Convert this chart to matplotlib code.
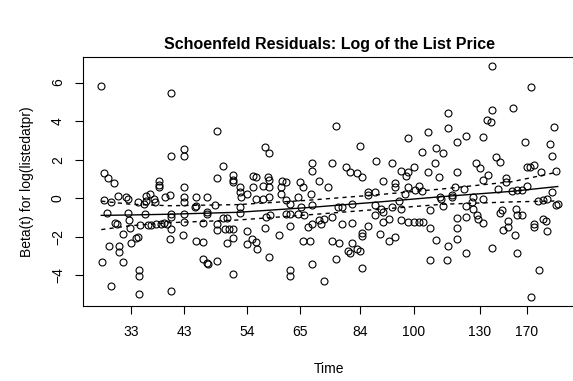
import numpy as np
import matplotlib
matplotlib.use("Agg")
import matplotlib.pyplot as plt

plt.rcParams["font.family"] = ["Liberation Sans", "DejaVu Sans"]

# scaled residuals for log(listedatpr), x = km-transformed time
t_a = [0.000, 0.153, 0.153, 0.007, 0.015, 0.028, 0.127, 0.127, 0.127, 0.007, 0.022, 0.037,
       0.055, 0.059, 0.081, 0.098, 0.107, 0.094, 0.098, 0.116, 0.118, 0.140, 0.151, 0.013,
       0.059, 0.096, 0.153, 0.153, 0.031, 0.035, 0.061, 0.063, 0.085, 0.103, 0.109, 0.120,
       0.131, 0.138, 0.144, 0.153, 0.048, 0.066, 0.077, 0.081, 0.018, 0.039, 0.039, 0.002,
       0.048, 0.083, 0.083, 0.022, 0.083, 0.153]
b_a = [5.81, 5.44, 2.21, 1.28, 1.02, 0.76, 0.91, 0.70, 0.55, -0.08, -0.23, 0.13,
       0.03, -0.03, -0.23, 0.13, 0.23, -0.29, -0.13, -0.03, -0.23, 0.08, 0.18, -0.76,
       -0.76, -0.81, -0.81, -0.96, -1.28, -1.33, -1.12, -1.54, -1.38, -1.38, -1.38, -1.33,
       -1.33, -1.28, -1.33, -1.59, -1.85, -2.32, -2.06, -2.01, -2.47, -2.47, -2.79, -3.31,
       -3.31, -3.72, -4.04, -4.56, -4.97, -4.82]

t_b = [0.254, 0.182, 0.182, 0.267, 0.254, 0.289, 0.289, 0.333, 0.339, 0.182, 0.182, 0.182,
       0.208, 0.208, 0.232, 0.249, 0.289, 0.304, 0.304, 0.306, 0.304, 0.304, 0.319, 0.333,
       0.339, 0.354, 0.354, 0.182, 0.182, 0.206, 0.232, 0.232, 0.223, 0.254, 0.254, 0.267,
       0.276, 0.271, 0.280, 0.289, 0.289, 0.276, 0.319, 0.330, 0.339, 0.341, 0.319, 0.359,
       0.368, 0.151, 0.180, 0.208, 0.223, 0.223, 0.232, 0.234, 0.254, 0.289]
b_b = [3.46, 2.53, 2.16, 1.64, 1.02, 1.22, 0.96, 1.17, 1.07, 0.60, 0.08, -0.23,
       0.03, -0.39, 0.03, -0.34, 0.81, 0.60, 0.29, 0.03, -0.49, -0.76, 0.23, 0.55,
       -0.03, -0.03, 0.65, -0.81, -1.22, -0.49, -0.70, -0.81, -1.28, -1.33, -1.64, -1.02,
       -1.02, -1.59, -1.59, -1.59, -2.06, -2.32, -1.69, -2.11, -2.27, -2.63, -2.37, -1.54,
       -3.05, -2.11, -1.90, -2.21, -2.27, -3.15, -3.36, -3.41, -3.26, -3.93]

t_c = [0.514, 0.567, 0.359, 0.368, 0.462, 0.462, 0.505, 0.536, 0.545, 0.560, 0.571, 0.365,
       0.368, 0.396, 0.405, 0.435, 0.477, 0.368, 0.368, 0.394, 0.394, 0.442, 0.460, 0.497,
       0.405, 0.414, 0.431, 0.438, 0.462, 0.361, 0.370, 0.405, 0.414, 0.431, 0.444, 0.389,
       0.414, 0.453, 0.462, 0.477, 0.481, 0.488, 0.505, 0.519, 0.527, 0.549, 0.527, 0.549,
       0.571, 0.571, 0.442, 0.457, 0.505, 0.521, 0.549, 0.540, 0.545, 0.560, 0.567, 0.462,
       0.514, 0.571, 0.414, 0.414, 0.488]
b_c = [3.72, 2.68, 2.63, 2.32, 1.80, 1.38, 1.80, 1.59, 1.33, 1.28, 1.07, 1.07,
       0.96, 0.91, 0.86, 0.81, 0.91, 0.60, 0.08, 0.55, 0.23, 0.55, 0.23, 0.55,
       -0.08, -0.29, 0.03, -0.44, -0.34, -0.96, -0.86, -0.81, -0.81, -0.81, -0.86, -1.90,
       -1.43, -1.48, -1.33, -1.12, -1.33, -1.07, -0.96, -0.49, -0.49, -0.29, -1.33, -1.28,
       -1.80, -1.95, -2.21, -2.21, -2.21, -2.32, -2.32, -2.73, -2.84, -2.63, -2.73, -3.41,
       -3.15, -3.62, -3.72, -4.04, -4.30]

t_d = [0.672, 0.716, 0.702, 0.602, 0.637, 0.656, 0.667, 0.672, 0.685, 0.716, 0.617, 0.643,
       0.643, 0.672, 0.687, 0.702, 0.696, 0.584, 0.584, 0.600, 0.665, 0.652, 0.600, 0.613,
       0.617, 0.637, 0.656, 0.600, 0.617, 0.630, 0.656, 0.672, 0.685, 0.696, 0.705, 0.584,
       0.611, 0.630, 0.643]
b_d = [3.10, 3.41, 2.37, 1.90, 1.80, 1.38, 1.12, 1.33, 1.59, 1.33, 0.91, 0.76,
       0.60, 0.60, 0.44, 0.39, 0.65, 0.29, 0.18, 0.29, 0.23, -0.13, -0.34, -0.55,
       -0.70, -0.49, -0.55, -0.86, -1.22, -1.07, -1.12, -1.22, -1.22, -1.22, -1.22, -1.43,
       -1.85, -2.21, -2.01]

t_e = [0.856, 0.941, 0.759, 0.856, 0.902, 0.845, 0.853, 0.759, 0.799, 0.836, 0.779, 0.928,
       0.991, 0.982, 0.733, 0.748, 0.731, 0.987, 0.864, 0.873, 0.821, 0.829, 0.847, 0.836,
       0.779, 0.740, 0.932, 0.939, 0.947, 0.963, 0.996, 0.886, 0.886, 0.869, 0.899, 0.910,
       0.921, 0.932, 0.775, 0.794, 0.742, 0.744, 0.768, 0.768, 0.814, 0.812, 0.836, 0.799,
       0.748, 0.956, 0.967, 0.976, 0.987, 0.996, 1.000, 0.720, 0.814, 0.823, 0.825, 0.836,
       0.873, 0.877, 0.908, 0.910, 0.921, 0.779, 0.799, 0.891, 0.967, 0.974, 0.947, 0.947,
       0.976, 0.880, 0.891, 0.906, 0.779, 0.779, 0.759, 0.733, 0.720, 0.856, 0.910, 0.799,
       0.757, 0.720, 0.958, 0.941]
b_e = [6.85, 5.76, 4.40, 4.56, 4.66, 4.04, 3.93, 3.62, 3.20, 3.15, 2.89, 2.89,
       3.67, 2.79, 2.58, 2.32, 1.80, 2.16, 2.11, 1.85, 1.80, 1.54, 1.22, 0.96,
       1.33, 1.07, 1.59, 1.59, 1.74, 1.33, 1.43, 1.02, 0.86, 0.49, 0.39, 0.44,
       0.44, 0.65, 0.55, 0.49, 0.03, -0.03, 0.18, 0.03, 0.08, -0.18, -0.03, -0.39,
       -0.39, -0.13, -0.08, -0.03, 0.29, -0.34, -0.29, -0.60, -0.55, -0.86, -1.07, -1.28,
       -0.76, -0.60, -0.55, -0.86, -0.86, -1.02, -0.96, -1.17, -1.07, -1.17, -1.33, -1.48,
       -1.69, -1.64, -1.48, -1.90, -1.54, -2.11, -2.47, -2.16, -1.54, -2.58, -2.84, -2.84,
       -3.20, -3.20, -3.72, -5.13]

# spline fit and +/- 2 se band
fit_t = [0.0, 0.063, 0.15, 0.3, 0.45, 0.6, 0.75, 0.9, 1.0]
fit_b = [-0.90, -0.88, -0.84, -0.74, -0.50, -0.22, 0.08, 0.35, 0.60]
fit_hi = [-0.16, -0.32, -0.40, -0.34, -0.12, 0.16, 0.48, 0.85, 1.35]
fit_lo = [-1.64, -1.44, -1.28, -1.14, -0.88, -0.60, -0.32, -0.20, -0.15]

# time axis labels at their transformed positions
tick_pos = [0.066, 0.182, 0.319, 0.435, 0.567, 0.685, 0.829, 0.932]
tick_lab = ["33", "43", "54", "65", "84", "100", "130", "170"]

t = np.concatenate([t_a, t_b, t_c, t_d, t_e])
b = np.concatenate([b_a, b_b, b_c, b_d, b_e])

fig = plt.figure(figsize=(5.73, 3.81), dpi=100)
ax = fig.add_axes([83 / 573, 1 - 306 / 381, (576 - 83) / 573, (306 - 57) / 381])

ax.plot(t, b, "o", ms=5, mfc="none", mec="black", mew=0.8)
ax.plot(fit_t, fit_b, color="black", lw=1)
ax.plot(fit_t, fit_hi, color="black", lw=1, ls=(0, (3, 3)))
ax.plot(fit_t, fit_lo, color="black", lw=1, ls=(0, (3, 3)))

ax.set_xlim(-0.04, 1.04)
ax.set_ylim(-5.61, 7.33)
ax.set_xticks(tick_pos)
ax.set_xticklabels(tick_lab)
ax.set_yticks([-4, -2, 0, 2, 4, 6])
ax.set_yticklabels(["\u22124", "\u22122", "0", "2", "4", "6"], rotation=90, va="center")
ax.tick_params(length=6, width=0.8, labelsize=10)
ax.tick_params(axis="x", pad=8)
ax.tick_params(axis="y", pad=7)

ax.set_xlabel("Time", fontsize=10, labelpad=16)
ax.set_ylabel("Beta(t) for log(listedatpr)", fontsize=10, labelpad=12)
ax.set_title("Schoenfeld Residuals: Log of the List Price", fontsize=11.5, fontweight="bold", pad=6)

plt.savefig("out.png", dpi=100)
